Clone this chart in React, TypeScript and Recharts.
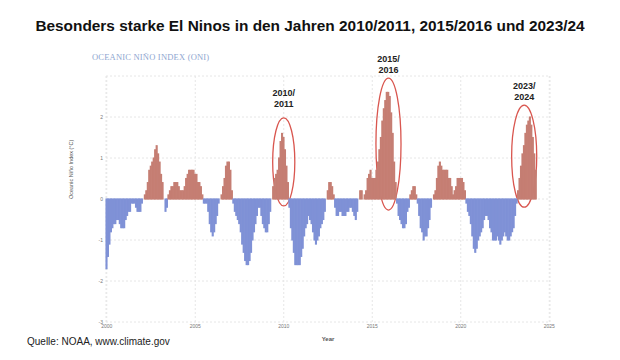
import React from 'react';
import { BarChart, Bar, Cell, XAxis, YAxis, CartesianGrid, ReferenceArea } from 'recharts';

// Oceanic Niño Index, 3-month running seasons (DJF, JFM, ... NDJ), from Jan 2000
const oniValues: number[] = [
  -1.7, -1.4, -1.1, -0.8, -0.7, -0.6, -0.6, -0.5, -0.5, -0.6, -0.7, -0.7, // 2000
  -0.7, -0.5, -0.4, -0.3, -0.3, -0.1, -0.1, -0.1, -0.2, -0.3, -0.3, -0.3, // 2001
  -0.1, 0.0, 0.1, 0.2, 0.4, 0.7, 0.8, 0.9, 1.0, 1.2, 1.3, 1.1, // 2002
  0.9, 0.6, 0.4, 0.0, -0.3, -0.2, 0.1, 0.2, 0.3, 0.3, 0.4, 0.4, // 2003
  0.4, 0.3, 0.2, 0.2, 0.2, 0.3, 0.5, 0.6, 0.7, 0.7, 0.7, 0.7, // 2004
  0.6, 0.6, 0.4, 0.4, 0.3, 0.1, -0.1, -0.1, -0.1, -0.3, -0.6, -0.8, // 2005
  -0.9, -0.8, -0.6, -0.4, -0.1, 0.0, 0.1, 0.3, 0.5, 0.8, 0.9, 0.9, // 2006
  0.7, 0.2, -0.1, -0.3, -0.4, -0.5, -0.6, -0.8, -1.1, -1.3, -1.5, -1.6, // 2007
  -1.6, -1.5, -1.3, -1.0, -0.8, -0.6, -0.4, -0.2, -0.2, -0.4, -0.6, -0.7, // 2008
  -0.8, -0.8, -0.6, -0.3, 0.0, 0.3, 0.5, 0.6, 0.7, 1.0, 1.4, 1.6, // 2009
  1.5, 1.2, 0.8, 0.4, -0.2, -0.7, -1.0, -1.3, -1.6, -1.6, -1.6, -1.6, // 2010
  -1.4, -1.2, -0.9, -0.7, -0.6, -0.4, -0.5, -0.6, -0.8, -1.0, -1.1, -1.0, // 2011
  -0.9, -0.7, -0.6, -0.5, -0.3, 0.0, 0.2, 0.4, 0.4, 0.3, 0.1, -0.2, // 2012
  -0.4, -0.4, -0.3, -0.3, -0.4, -0.4, -0.4, -0.3, -0.3, -0.2, -0.2, -0.3, // 2013
  -0.4, -0.5, -0.3, 0.0, 0.2, 0.2, 0.0, 0.1, 0.2, 0.5, 0.6, 0.7, // 2014
  0.5, 0.5, 0.5, 0.7, 0.9, 1.2, 1.5, 1.9, 2.2, 2.4, 2.6, 2.6, // 2015
  2.5, 2.1, 1.6, 0.9, 0.4, -0.1, -0.4, -0.5, -0.6, -0.7, -0.7, -0.6, // 2016
  -0.3, -0.2, 0.1, 0.2, 0.3, 0.3, 0.1, -0.1, -0.4, -0.7, -0.8, -1.0, // 2017
  -0.9, -0.9, -0.7, -0.5, -0.2, 0.0, 0.1, 0.2, 0.5, 0.8, 0.9, 0.8, // 2018
  0.7, 0.7, 0.7, 0.7, 0.5, 0.5, 0.3, 0.1, 0.2, 0.3, 0.5, 0.5, // 2019
  0.5, 0.5, 0.4, 0.2, -0.1, -0.3, -0.4, -0.6, -0.9, -1.2, -1.3, -1.2, // 2020
  -1.0, -0.9, -0.8, -0.7, -0.5, -0.4, -0.4, -0.5, -0.7, -0.8, -1.0, -1.0, // 2021
  -1.0, -0.9, -1.0, -1.1, -1.0, -0.9, -0.8, -0.9, -1.0, -1.0, -0.9, -0.8, // 2022
  -0.7, -0.4, -0.1, 0.2, 0.5, 0.8, 1.1, 1.3, 1.6, 1.8, 1.9, 2.0, // 2023
  1.8, 1.5, 1.1, 0.7, // 2024
];

const startYear = 2000;
const endYear = 2025;
const xTickYears = [2000, 2005, 2010, 2015, 2020, 2025];
const yTicks = [-3, -2, -1, 0, 1, 2, 3];

// highlighted El Niño events: label lines, month-index span, value span
const events = [
  { lines: ['2010/', '2011'], x1: 113, x2: 127, y1: -0.17, y2: 1.98, gap: 25 },
  { lines: ['2015/', '2016'], x1: 183, x2: 199, y1: -0.27, y2: 2.95, gap: 20 },
  { lines: ['2023/', '2024'], x1: 275, x2: 291, y1: -0.2, y2: 2.29, gap: 20 },
];

const RED = '#c57e73';
const BLUE = '#7f91d6';
const months = (endYear - startYear) * 12 + 1;
const chartData = Array.from({ length: months }, (_, i) => ({
  i,
  v: i < oniValues.length ? oniValues[i] : null,
}));
const xTicks = xTickYears.map((y) => (y - startYear) * 12);

const EventShape = (lines: string[], gap: number) => (props: any) => {
  const { x, y, width, height } = props;
  const cx = x + width / 2;
  return (
    <g>
      <ellipse cx={cx} cy={y + height / 2} rx={width / 2} ry={height / 2} fill="none" stroke="#d9564f" strokeWidth={1.3} />
      {lines.map((t, k) => (
        <text key={t} x={cx} y={y - gap + k * 11 + 3.5} textAnchor="middle" fontSize={9} fontWeight="bold" fill="#222" fontFamily="Liberation Sans, Arial, sans-serif">
          {t}
        </text>
      ))}
    </g>
  );
};

export default function App() {
  return (
    <div style={{ position: 'absolute', left: 0, top: 0, width: 620, height: 360, background: '#fff', fontFamily: 'Liberation Sans, Arial, sans-serif' }}>
      <div style={{ position: 'absolute', left: 0, top: 17, width: 620, textAlign: 'center', fontSize: 15.4, fontWeight: 'bold', color: '#111' }}>
        Besonders starke El Ninos in den Jahren 2010/2011, 2015/2016 und 2023/24
      </div>
      <div style={{ position: 'absolute', left: 92, top: 52, fontSize: 8.5, color: '#8ea6d0', fontFamily: 'Liberation Serif, serif', letterSpacing: 0.2 }}>
        OCEANIC NIÑO INDEX (ONI)
      </div>
      <div style={{ position: 'absolute', left: 27, top: 336, fontSize: 10, color: '#222' }}>
        Quelle: NOAA, www.climate.gov
      </div>
      <BarChart
        width={620}
        height={360}
        data={chartData}
        margin={{ top: 76, right: 70, bottom: 0, left: 66 }}
        barCategoryGap={0}
        barGap={0}
        style={{ position: 'absolute', left: 0, top: 0 }}
      >
        <CartesianGrid stroke="#e6e6e6" strokeDasharray="2 2" />
        <XAxis
          dataKey="i"
          type="category"
          ticks={xTicks}
          interval={0}
          tickFormatter={(i: number) => String(startYear + i / 12)}
          axisLine={false}
          tickLine={false}
          tickSize={0}
          tickMargin={2}
          height={38}
          tick={{ fontSize: 5, fill: '#777' }}
          label={{ value: 'Year', position: 'insideBottom', offset: 19, fontSize: 6, fontWeight: 'bold', fill: '#555' }}
        />
        <YAxis
          domain={[-3, 3]}
          ticks={yTicks}
          interval={0}
          tickFormatter={(v: number) => (v === 3 ? '' : String(v))}
          axisLine={false}
          tickLine={false}
          tickSize={2}
          tickMargin={1}
          width={40}
          tick={{ fontSize: 5, fill: '#777' }}
          label={{ value: 'Oceanic Niño Index (°C)', angle: -90, position: 'insideLeft', offset: 5, fontSize: 5.5, fill: '#555' }}
        />
        <Bar dataKey="v" isAnimationActive={false}>
          {chartData.map((d) => {
            const c = d.v !== null && d.v >= 0 ? RED : BLUE;
            return <Cell key={d.i} fill={c} stroke={c} strokeWidth={1.1} />;
          })}
        </Bar>
        {events.map((e) => (
          <ReferenceArea
            key={e.lines[0]}
            x1={e.x1}
            x2={e.x2}
            y1={e.y1}
            y2={e.y2}
            shape={EventShape(e.lines, e.gap)}
          />
        ))}
      </BarChart>
    </div>
  );
}
